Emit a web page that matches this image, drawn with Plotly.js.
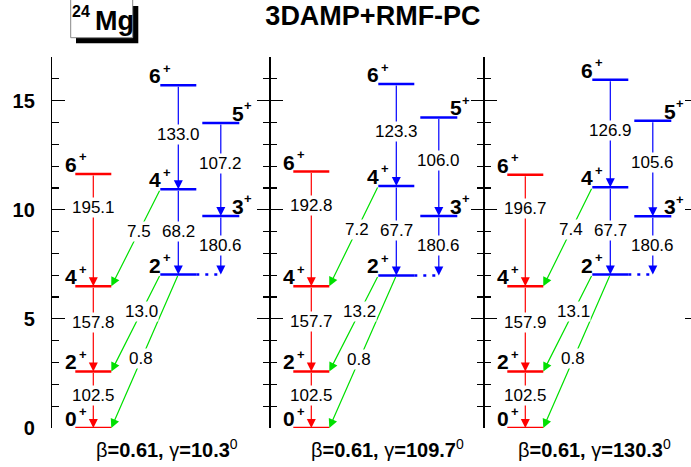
<!DOCTYPE html>
<html><head><meta charset="utf-8">
<script src="https://cdn.plot.ly/plotly-3.0.1.min.js"></script>
<style>html,body{margin:0;padding:0;overflow:hidden;background:#fff}</style>
</head><body><div id="chart" style="width:700px;height:467px"></div>
<script>
// ---------------- data ----------------
const beta = 0.61;
const gammaDeg = [10.3, 109.7, 130.3];
// ground band 0+,2+,4+,6+ (MeV)
const gsSpin = ['0', '2', '4', '6'];
const gsE = [[0, 2.59, 6.49, 11.64], [0, 2.59, 6.50, 11.75], [0, 2.59, 6.49, 11.60]];
// gamma band, even spins 2+,4+,6+
const evSpin = ['2', '4', '6'];
const evE = [[7.03, 10.94, 15.70], [6.99, 11.09, 15.76], [7.03, 11.03, 15.96]];
// gamma band, odd spins 3+,5+
const odSpin = ['3', '5'];
const odE = [[9.72, 13.98], [9.72, 14.23], [9.70, 14.08]];
// B(E2) values
const gsBE2 = [[102.5, 157.8, 195.1], [102.5, 157.7, 192.8], [102.5, 157.9, 196.7]]; // 2->0, 4->2, 6->4
const evBE2 = [[68.2, 133.0], [67.7, 123.3], [67.7, 126.9]];   // 4γ->2γ, 6γ->4γ
const odBE2 = [[180.6, 107.2], [180.6, 106.0], [180.6, 105.6]]; // 3->2γ, 5->3
const interBE2 = [[0.8, 13.0, 7.5], [0.8, 13.2, 7.2], [0.8, 13.1, 7.4]]; // 2γ->0, 2γ->2, 4γ->4
const yTicksMajor = [0, 5, 10, 15];

// ---------------- layout constants ----------------
const W = 700, H = 467, L = 52, R = 2, T = 57, B = 39;
const PW = W - L - R, PH = H - T - B;
const sep = [270, 484];
const xRanges = [[0, sep[0] - L], [0, sep[1] - sep[0]], [0, L + PW - sep[1]]];
const COL = {gs: [23.3, 59.3], ev: [108.3, 144.3], od: [150.3, 187.3]};
const cen = c => (c[0] + c[1]) / 2;
const bottomX = [115, 117, 110];
const fam = 'Liberation Sans, Arial, Helvetica, sans-serif';
const RED = '#ff0000', BLUE = '#0000ff', GREEN = '#00e000';
const pX = px => (px - L) / PW;
const pY = py => (T + PH - py) / PH;

const traces = [], arrows = [], labels = [];

for (let p = 0; p < 3; p++) {
  const s = p ? String(p + 1) : '';
  const xa = 'x' + s, ya = 'y' + s;
  const hline = (x0, x1, E, color, dash) => traces.push({
    type: 'scatter', mode: 'lines', x: [x0, x1], y: [E, E], xaxis: xa, yaxis: ya,
    line: {color: color, width: 2.5, dash: dash || 'solid'}, hoverinfo: 'skip', showlegend: false
  });
  const arrow = (xt, yt, xh, yh, color) => arrows.push({
    xref: xa, yref: ya, axref: xa, ayref: ya, x: xh, y: yh, ax: xt, ay: yt, text: '',
    showarrow: true, arrowhead: 2, arrowsize: 1.5, arrowwidth: 1.2, arrowcolor: color, standoff: 0
  });
  const tlabel = (x, y, v) => labels.push({
    xref: xa, yref: ya, x: x, y: y, text: v.toFixed(1), showarrow: false,
    font: {family: fam, size: 17, color: '#000'}, bgcolor: '#fff', borderpad: 0,
    xanchor: 'center', yanchor: 'middle'
  });
  // spin label: digit + small superscript "+"
  const spin = (x, E, J, side) => {
    labels.push({
      xref: xa, yref: ya, x: x, y: E, text: '<b>' + J + '</b>', showarrow: false, borderpad: 0,
      font: {family: fam, size: 21, color: '#000'}, xanchor: side, yanchor: 'bottom', yshift: -3
    });
    labels.push({
      xref: xa, yref: ya, x: side === 'right' ? x : x + 12, y: E, text: '<b>+</b>', showarrow: false, borderpad: 0,
      font: {family: fam, size: 13, color: '#000'}, xanchor: 'left', yanchor: 'middle', yshift: 17
    });
  };

  // levels
  gsE[p].forEach((E, i) => { hline(COL.gs[0], COL.gs[1], E, RED); spin(COL.gs[0] + 3, E, gsSpin[i], 'right'); });
  evE[p].forEach((E, i) => { hline(COL.ev[0], COL.ev[1], E, BLUE); spin(COL.ev[0] + 2, E, evSpin[i], 'right'); });
  odE[p].forEach((E, i) => { hline(COL.od[0], COL.od[1], E, BLUE); spin(COL.od[1] - 8, E, odSpin[i], 'left'); });
  hline(COL.ev[1], cen(COL.od), evE[p][0], BLUE, '3px,6px');

  // ground band transitions
  const fg = [0.42, 0.42, 0.30];
  for (let i = 0; i < 3; i++) {
    const Eu = gsE[p][i + 1], El = gsE[p][i], x = cen(COL.gs);
    arrow(x, Eu, x, El, RED);
    tlabel(x, Eu - fg[i] * (Eu - El), gsBE2[p][i]);
  }
  // gamma band even
  const fe = [0.5, 0.47];
  for (let i = 0; i < 2; i++) {
    const Eu = evE[p][i + 1], El = evE[p][i], x = cen(COL.ev);
    arrow(x, Eu, x, El, BLUE);
    tlabel(x, Eu - fe[i] * (Eu - El), evBE2[p][i]);
  }
  // odd: 3 -> 2γ, 5 -> 3
  {
    const x = cen(COL.od);
    let Eu = odE[p][0], El = evE[p][0];
    arrow(x, Eu, x, El, BLUE); tlabel(x, Eu - 0.5 * (Eu - El), odBE2[p][0]);
    Eu = odE[p][1]; El = odE[p][0];
    arrow(x, Eu, x, El, BLUE); tlabel(x, Eu - 0.44 * (Eu - El), odBE2[p][1]);
  }
  // interband (green)
  const inter = [
    [cen(COL.ev), evE[p][0], COL.gs[1], gsE[p][0], 0.55],
    [COL.ev[0], evE[p][0], COL.gs[1], gsE[p][1], 0.38],
    [COL.ev[0], evE[p][1], COL.gs[1], gsE[p][2], 0.43]
  ];
  inter.forEach((t, i) => {
    arrow(t[0], t[1], t[2], t[3], GREEN);
    tlabel(t[0] + t[4] * (t[2] - t[0]), t[1] + t[4] * (t[3] - t[1]), interBE2[p][i]);
  });

  // bottom parameter label
  labels.push({
    xref: xa, yref: 'paper', x: bottomX[p], y: pY(448), showarrow: false,
    text: 'β<b>=' + beta.toFixed(2) + ', </b>γ<b>=' + gammaDeg[p].toFixed(1) + '</b><sup>0</sup>',
    font: {family: fam, size: 20, color: '#000'}, xanchor: 'center', yanchor: 'middle'
  });

  // invisible trace so the overlaying major-tick axis is drawn
  traces.push({type: 'scatter', mode: 'lines', x: [null], y: [null], xaxis: xa, yaxis: 'y' + (p + 4),
    hoverinfo: 'skip', showlegend: false});
}

// 24Mg box text
labels.push({xref: 'paper', yref: 'paper', x: pX(92), y: pY(1), text: '<b>24</b>', showarrow: false,
  font: {family: fam, size: 16, color: '#000'}, xanchor: 'right', yanchor: 'top'});
labels.push({xref: 'paper', yref: 'paper', x: pX(92.5), y: pY(38), text: '<b>Mg</b>', showarrow: false,
  font: {family: fam, size: 27, color: '#000'}, xanchor: 'left', yanchor: 'bottom'});

const shapes = [
  {type: 'rect', xref: 'paper', yref: 'paper', x0: pX(76), x1: pX(138.3), y0: pY(6), y1: pY(43.3),
   fillcolor: '#000', line: {width: 0}},
  {type: 'rect', xref: 'paper', yref: 'paper', x0: pX(70.7), x1: pX(132.7), y0: pY(-3), y1: pY(37.7),
   fillcolor: '#fff', line: {color: '#888', width: 1}}
];

// minor-tick axes (every 1) and overlaying major-tick axes (0,5,10,15)
const yMinor = {
  range: [0, 17], showline: true, linecolor: '#000', linewidth: 1.2, mirror: 'ticks',
  ticks: 'inside', ticklen: 7, tickwidth: 1.2, tickcolor: '#000', tick0: 0, dtick: 1,
  showticklabels: false, showgrid: false, zeroline: false, fixedrange: true
};
const yMajor = {
  range: [0, 17], showline: true, linecolor: '#000', linewidth: 1.2, mirror: 'ticks',
  ticks: 'inside', ticklen: 13, tickwidth: 1.2, tickcolor: '#000', tickmode: 'array', tickvals: yTicksMajor,
  showticklabels: false, showgrid: false, zeroline: false, fixedrange: true
};
const xBase = {visible: false, showgrid: false, zeroline: false, fixedrange: true};
const d1 = (sep[0] - L) / PW, d2 = (sep[1] - L) / PW;

const layout = {
  width: W, height: H, margin: {l: L, r: R, t: T, b: B},
  paper_bgcolor: '#fff', plot_bgcolor: 'rgba(0,0,0,0)', showlegend: false,
  title: {text: '<b>3DAMP+RMF-PC</b>', font: {family: fam, size: 27, color: '#000'},
    xref: 'container', yref: 'container', x: 373 / W, xanchor: 'center', y: 1 - 16 / H, yanchor: 'middle'},
  xaxis: Object.assign({}, xBase, {domain: [0, d1], range: xRanges[0]}),
  xaxis2: Object.assign({}, xBase, {domain: [d1, d2], range: xRanges[1]}),
  xaxis3: Object.assign({}, xBase, {domain: [d2, 1], range: xRanges[2]}),
  yaxis: Object.assign({}, yMinor, {anchor: 'x'}),
  yaxis2: Object.assign({}, yMinor, {anchor: 'x2'}),
  yaxis3: Object.assign({}, yMinor, {anchor: 'x3'}),
  yaxis4: Object.assign({}, yMajor, {anchor: 'x', overlaying: 'y', side: 'left', showticklabels: true,
    ticktext: yTicksMajor.map(String), ticklabelstandoff: 12,
    tickfont: {family: fam, size: 20, color: '#000', weight: 'bold'}}),
  yaxis5: Object.assign({}, yMajor, {anchor: 'x2', overlaying: 'y2', side: 'left'}),
  yaxis6: Object.assign({}, yMajor, {anchor: 'x3', overlaying: 'y3', side: 'left'}),
  shapes: shapes,
  annotations: arrows.concat(labels)
};

Plotly.newPlot('chart', traces, layout, {staticPlot: true, displayModeBar: false});
</script></body></html>
